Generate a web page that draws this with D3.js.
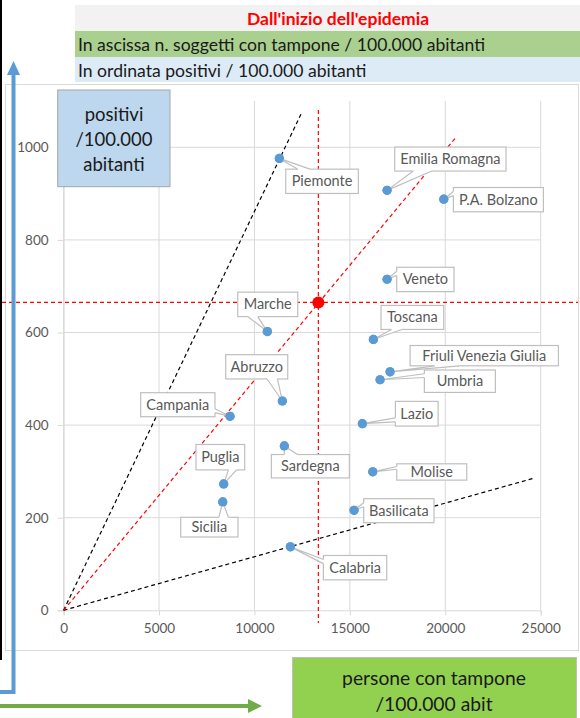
<!DOCTYPE html>
<html><head><meta charset="utf-8">
<script src="https://cdn.jsdelivr.net/npm/d3@7"></script>
<style>
body{margin:0;background:#fff;}
svg{display:block;font-family:Lato,'Open Sans',sans-serif;}
</style>
</head><body>
<svg id="c" width="580" height="718"></svg>
<script>
// ---- data ----
const regions = ["Piemonte","Emilia Romagna","P.A. Bolzano","Veneto","Marche","Toscana","Friuli Venezia Giulia","Umbria","Abruzzo","Campania","Lazio","Sardegna","Molise","Puglia","Sicilia","Basilicata","Calabria"];
const tamponi = [11305,16950,19922,16950,10676,16232,17107,16583,11462,8721,15655,11567,16200,8391,8339,15220,11882];
const positivi = [976,907,888,715,602,585,515,498,452,419,403,355,299,273,234,216,137];
const italiaPoint = [13349, 665];
const xTicks = [0,5000,10000,15000,20000,25000];
const yTicks = [0,200,400,600,800,1000];
const steepLineEnd = [12479, 1075];
const italiaLineEnd = [20529, 1020];
const shallowLineEnd = [24617, 285];
const titleText = "Dall'inizio dell'epidemia";
const xNote = "In ascissa n. soggetti con tampone / 100.000 abitanti";
const yNote = "In ordinata positivi / 100.000 abitanti";
const yAxisTitle = ["positivi","/100.000","abitanti"];
const xAxisTitle = ["persone con tampone","/100.000 abit"];

// ---- layout (label callout offsets relative to point, box size) ----
const labelLayout = [
 [42.7,22.9,72.6,24.3],[63.3,-31.3,111.3,24],[54.6,0.5,90,24.3],[38.3,0.2,57.3,24.4],
 [0.4,-27.2,60,24.4],[39,-22,62.7,24],[94.2,-16.2,148.3,20.3],[79.8,1.5,71,22.4],
 [-25.6,-34.2,62,24.3],[-52.2,-11.6,74.3,24],[54.4,-10,42.7,24.7],[26,20.3,78,23.4],
 [59,0.1,70,16.3],[-3.4,-26.7,48.7,25.4],[-13.4,25.2,57.3,19.7],[44.8,0.4,70.3,24],[64.7,20.8,63.4,24.4]
];

const svg = d3.select("#c");
const x = d3.scaleLinear().domain([0,25000]).range([63.6,540.7]);
const y = d3.scaleLinear().domain([0,1000]).range([610.3,147.3]);
const yTop = y(1100);
const grid = "#d9d9d9", txt = "#595959";

// header bars
svg.append("rect").attr("x",75).attr("y",5).attr("width",505).attr("height",26).attr("fill","#f2f2f2");
svg.append("rect").attr("x",75).attr("y",31).attr("width",505).attr("height",26).attr("fill","#a9d08e");
svg.append("rect").attr("x",75).attr("y",57).attr("width",505).attr("height",25).attr("fill","#ddebf7");
svg.append("text").attr("x",338).attr("y",24.5).attr("text-anchor","middle").attr("fill","#ff0000")
  .attr("font-weight","bold").attr("font-size",17.5).text(titleText);
svg.append("text").attr("x",78).attr("y",51).attr("fill","#1a1a1a").attr("font-size",17.6).text(xNote);
svg.append("text").attr("x",78).attr("y",77).attr("fill","#1a1a1a").attr("font-size",17.6).text(yNote);

// chart area
svg.append("rect").attr("x",5.5).attr("y",84.5).attr("width",573).attr("height",566)
  .attr("fill","#fff").attr("stroke",grid);

// gridlines
svg.append("g").selectAll("line").data(yTicks.slice(1)).join("line")
  .attr("x1",x(0)).attr("x2",x(25000)).attr("y1",d=>y(d)).attr("y2",d=>y(d))
  .attr("stroke",grid);
svg.append("g").selectAll("line").data(xTicks).join("line")
  .attr("x1",d=>x(d)).attr("x2",d=>x(d)).attr("y1",y(0)).attr("y2",yTop)
  .attr("stroke",grid);

// axes
const ya = svg.append("g").attr("transform",`translate(${x(0)},0)`)
  .call(d3.axisLeft(y).tickValues(yTicks).tickSize(6).tickPadding(9).tickFormat(d3.format("d")));
const xa = svg.append("g").attr("transform",`translate(0,${y(0)})`)
  .call(d3.axisBottom(x).tickValues(xTicks).tickSize(5).tickPadding(8).tickFormat(d3.format("d")));
[ya,xa].forEach(a=>{
  a.selectAll("path").attr("stroke",grid);
  a.selectAll("line").attr("stroke",grid);
  a.selectAll("text").attr("fill",txt).attr("font-size",13.5).attr("font-family","Lato,sans-serif");
});

// reference lines
const dash = "4,3";
svg.append("line").attr("x1",x(0)).attr("y1",y(0)).attr("x2",x(steepLineEnd[0])).attr("y2",y(steepLineEnd[1]))
  .attr("stroke","#000").attr("stroke-width",1.2).attr("stroke-dasharray",dash);
svg.append("line").attr("x1",x(0)).attr("y1",y(0)).attr("x2",x(shallowLineEnd[0])).attr("y2",y(shallowLineEnd[1]))
  .attr("stroke","#000").attr("stroke-width",1.2).attr("stroke-dasharray",dash);
svg.append("line").attr("x1",x(0)).attr("y1",y(0)).attr("x2",x(italiaLineEnd[0])).attr("y2",y(italiaLineEnd[1]))
  .attr("stroke","#ff0000").attr("stroke-width",1.2).attr("stroke-dasharray",dash);
svg.append("line").attr("x1",x(italiaPoint[0])).attr("x2",x(italiaPoint[0])).attr("y1",110).attr("y2",623)
  .attr("stroke","#ff0000").attr("stroke-width",1.2).attr("stroke-dasharray",dash);
svg.append("line").attr("x1",2).attr("x2",578).attr("y1",y(italiaPoint[1])).attr("y2",y(italiaPoint[1]))
  .attr("stroke","#ff0000").attr("stroke-width",1.2).attr("stroke-dasharray",dash);

// points
const pts = regions.map((r,i)=>({name:r, px:x(tamponi[i]), py:y(positivi[i]), lay:labelLayout[i]}));
svg.append("g").selectAll("circle").data(pts).join("circle")
  .attr("cx",d=>d.px).attr("cy",d=>d.py).attr("r",4.6).attr("fill","#5b9bd5");

// callouts
const cg = svg.append("g");
pts.forEach(d=>{
  const [dx,dy,w,h] = d.lay;
  const cx = d.px+dx, cy = d.py+dy;
  const x0=cx-w/2, x1=cx+w/2, y0=cy-h/2, y1=cy+h/2;
  const rx=(d.px-cx)/w, ry=(d.py-cy)/h;
  let b1,b2,in1,in2;
  if (Math.abs(rx) > Math.abs(ry)) {
    const ex = rx<0? x0 : x1, s = rx<0? 1.5 : -1.5;
    const f = ry<0? [1/6,1/3] : [2/3,5/6];
    b1=[ex,y0+h*f[0]]; b2=[ex,y0+h*f[1]]; in1=[ex+s,b1[1]]; in2=[ex+s,b2[1]];
  } else {
    const ey = ry<0? y0 : y1, s = ry<0? 1.5 : -1.5;
    const f = rx<0? [1/6,1/3] : [2/3,5/6];
    b1=[x0+w*f[0],ey]; b2=[x0+w*f[1],ey]; in1=[b1[0],ey+s]; in2=[b2[0],ey+s];
  }
  const g = cg.append("g");
  g.append("rect").attr("x",x0).attr("y",y0).attr("width",w).attr("height",h)
    .attr("fill","#fff").attr("stroke","#bfbfbf").attr("stroke-width",1.2);
  g.append("polygon").attr("points",[in1,b1,[d.px,d.py],b2,in2].map(p=>p.join(",")).join(" "))
    .attr("fill","#fff");
  g.append("polyline").attr("points",[b1,[d.px,d.py],b2].map(p=>p.join(",")).join(" "))
    .attr("fill","none").attr("stroke","#bfbfbf").attr("stroke-width",1.2);
  g.append("text").attr("x",cx).attr("y",cy+5).attr("text-anchor","middle")
    .attr("fill",txt).attr("font-size",14.5).text(d.name);
});

// re-draw dots above callout pointers
svg.append("g").selectAll("circle").data(pts).join("circle")
  .attr("cx",d=>d.px).attr("cy",d=>d.py).attr("r",4.6).attr("fill","#5b9bd5");

// italia point
svg.append("circle").attr("cx",x(italiaPoint[0])).attr("cy",y(italiaPoint[1])).attr("r",6).attr("fill","#ff0000");

// y-axis title box
svg.append("rect").attr("x",57.7).attr("y",90).attr("width",112.3).attr("height",96.7)
  .attr("fill","#bdd7ee").attr("stroke","#a6a6a6");
svg.append("g").selectAll("text").data(yAxisTitle).join("text")
  .attr("x",114).attr("y",(d,i)=>121+i*25).attr("text-anchor","middle")
  .attr("font-size",18.5).attr("fill","#1a1a1a").text(d=>d);

// left black line
svg.append("line").attr("x1",1).attr("x2",1).attr("y1",0).attr("y2",660).attr("stroke","#000").attr("stroke-width",2);

// blue arrow
const blue="#5b9bd5";
svg.append("path").attr("d","M0,692 H13.5 V73").attr("fill","none").attr("stroke",blue).attr("stroke-width",4);
svg.append("path").attr("d","M13.5,61 L20,75 L7,75 Z").attr("fill",blue);

// green arrow
const green="#70ad47";
svg.append("line").attr("x1",0).attr("x2",250).attr("y1",706).attr("y2",706).attr("stroke",green).attr("stroke-width",4);
svg.append("path").attr("d","M262,706 L248,699 L248,713 Z").attr("fill",green);

// x-axis title box
svg.append("rect").attr("x",292.5).attr("y",657.5).attr("width",284).attr("height",62)
  .attr("fill","#92d050").attr("stroke","#bfbfbf");
svg.append("g").selectAll("text").data(xAxisTitle).join("text")
  .attr("x",434).attr("y",(d,i)=>685+i*26).attr("text-anchor","middle")
  .attr("font-size",19.3).attr("fill","#1a1a1a").text(d=>d);
</script>
</body></html>
